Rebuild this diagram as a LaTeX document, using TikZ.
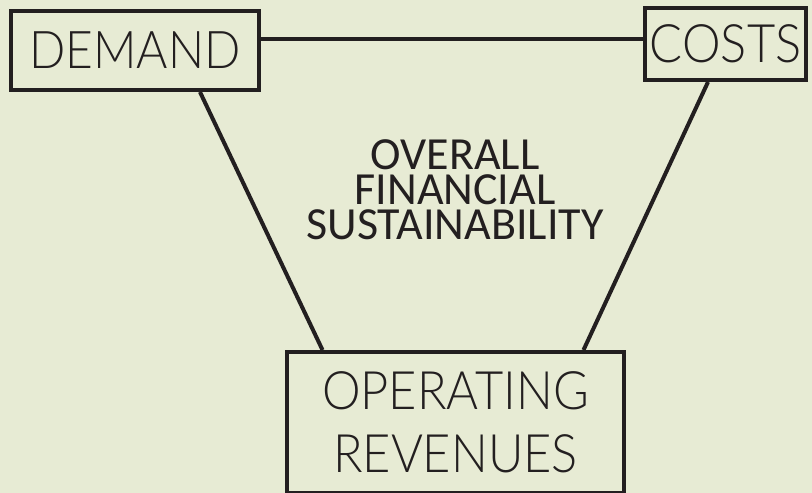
\documentclass[tikz,border=0pt]{standalone}
\usepackage{fontspec}
\setmainfont{Carlito}
\newfontfamily\lightfont[FakeStretch=0.92]{Lato Light}
\usepackage{xcolor}
\definecolor{bgcream}{HTML}{E7EBD4}
\definecolor{inkline}{HTML}{231F20}

\begin{document}
\begin{tikzpicture}[x=1pt,y=-1pt,-,line width=4pt,box node/.style={draw=inkline,line width=4pt,rectangle,inner sep=0pt,text=inkline}]
            \fill[bgcream] (0,0) rectangle (812,493);
            \useasboundingbox (0,0) rectangle (812,493);

            \node[box node, minimum width=248pt, minimum height=79pt, font=\lightfont\fontsize{52}{60}\selectfont] (demand) at (135,50.5) {DEMAND};
            \node[box node, minimum width=161pt, minimum height=72pt, font=\lightfont\fontsize{53}{63}\selectfont] (costs) at (725.5,44) {COSTS};
            \node[box node, minimum width=337pt, minimum height=141pt, align=center, font=\lightfont\fontsize{53}{63}\selectfont] (oper) at (455.5,422.5) {OPERATING\\REVENUES};

            \node[text=inkline, align=center, inner sep=0pt, font=\fontsize{46}{35}\selectfont] (overall) at (455,189.5) {OVERALL\\FINANCIAL\\SUSTAINABILITY};

            \path[draw=inkline, line width=4pt]
                ([yshift=11.5pt]demand.east) edge ([yshift=11.5pt]demand.east -| costs.west)
                ([xshift=65pt]demand.south) edge ([xshift=-133pt]oper.north)
                ([xshift=-17.5pt]costs.south) edge ([xshift=128pt]oper.north)
                ;
        \end{tikzpicture}
\end{document}
